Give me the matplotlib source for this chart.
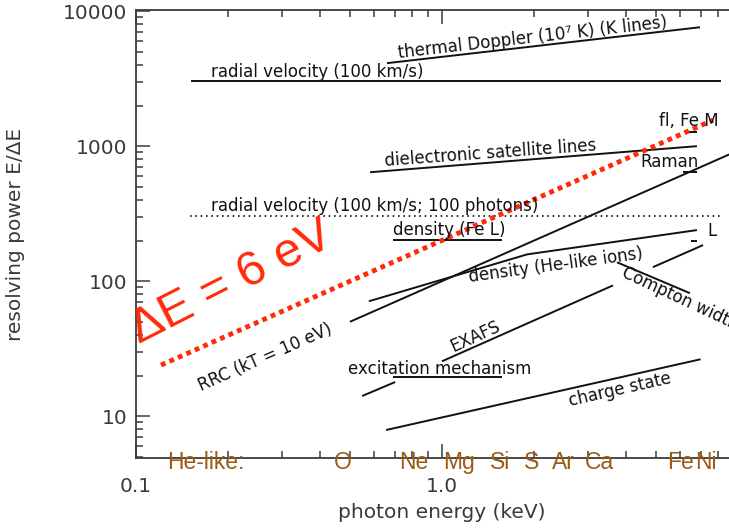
import numpy as np
import matplotlib
matplotlib.use("Agg")
import matplotlib.pyplot as plt
from matplotlib.ticker import FixedLocator, FixedFormatter, NullFormatter, LogLocator

# resolving power requirements (E/dE) vs photon energy (keV)
rv_x = [0.151, 8.16]            # radial velocity (100 km/s)
rv_y = [3030, 3030]
doppler_x = [0.661, 6.97]       # thermal Doppler
doppler_y = [4120, 7600]
dielec_x = [0.582, 6.81]        # dielectronic satellite lines
dielec_y = [641, 1000]
rv100_x = [0.150, 8.16]         # radial velocity, 100 photons
rv100_y = [303, 303]
rrc_x = [0.5, 10.0]             # RRC kT=10 eV
rrc_y = [50, 1000]
fel_x = [0.692, 1.57]           # density (Fe L)
fel_y = [201, 201]
helike_x = [0.577, 1.90, 6.81]  # density (He-like ions)
helike_y = [71, 158, 239]
compton_x = [3.73, 6.46]
compton_y = [138, 81.5]
lseg_x = [4.89, 7.13]
lseg_y = [127, 185]
exafs_x = [1.0, 3.62]
exafs_y = [25.5, 93]
excit_x = [0.692, 1.57]
excit_y = [19.4, 19.4]
excit2_x = [0.548, 0.703]
excit2_y = [14.1, 17.9]
charge_x = [0.657, 7.0]
charge_y = [7.9, 26.4]
de6_x = [0.1207, 7.69]          # dE = 6 eV
de6_y = [23.9, 1560]

# little dashes at the Fe end
flfe_x = [6.41, 6.81]; flfe_y = [1270, 1270]
raman_x = [6.13, 6.81]; raman_y = [641, 641]
ldash_x = [6.50, 6.81]; ldash_y = [198, 198]

# He-like line energies for the element labels
elements = ["He-like:", "O", "Ne", "Mg", "Si", "S", "Ar", "Ca", "Fe", "Ni"]
element_x = [0.169, 0.475, 0.81, 1.14, 1.55, 1.97, 2.5, 3.26, 6.04, 7.29]

xticks = [0.1, 1.0, 10.0]
xticklabels = ["0.1", "1.0", ""]   # the 10 label falls off the page
yticks = [10, 100, 1000, 10000]
yticklabels = ["10", "100", "1000", "10000"]

W, H = 729, 531
fig = plt.figure(figsize=(W / 100, H / 100), dpi=100)
ax = fig.add_axes([136 / W, (H - 458) / H, (748 - 136) / W, (458 - 10) / H])
ax.set_xscale("log")
ax.set_yscale("log")
ax.set_xlim(0.1, 10)
ax.set_ylim(4.9, 10200)

ink = "#111111"
gray = "#3a3a3a"
red = "#ff2a0a"
brown = "#9a5b14"

lw = 1.4
for xs, ys in [(rv_x, rv_y), (doppler_x, doppler_y), (dielec_x, dielec_y),
               (rrc_x, rrc_y), (fel_x, fel_y), (helike_x, helike_y),
               (compton_x, compton_y), (lseg_x, lseg_y), (exafs_x, exafs_y),
               (excit_x, excit_y), (excit2_x, excit2_y), (charge_x, charge_y),
               (flfe_x, flfe_y), (raman_x, raman_y), (ldash_x, ldash_y)]:
    ax.plot(xs, ys, color=ink, lw=lw, solid_capstyle="butt")

ax.plot(rv100_x, rv100_y, color=ink, lw=1.2, linestyle=(0, (1, 2.2)))
ax.plot(de6_x, de6_y, color=red, lw=3.5, linestyle=(0, (1, 0.9)))

fs = 12
txt = dict(color=ink, fontsize=fs, ha="center", va="center", rotation_mode="anchor")
ax.text(0.390, 3530, "radial velocity (100 km/s)", **txt)
ax.text(1.98, 6310, "thermal Doppler (10\u2077 K) (K lines)", rotation=6.5, **txt)
ax.text(1.435, 887, "dielectronic satellite lines", rotation=4.2, **txt)
ax.text(0.604, 359, "radial velocity (100 km/s; 100 photons)", **txt)
ax.text(1.06, 239, "density (Fe L)", **txt)
ax.text(0.264, 27.4, "RRC (kT = 10 eV)", rotation=23.8, **txt)
ax.text(2.36, 131, "density (He-like ions)", rotation=7.7, **txt)
ax.text(3.9, 118, "Compton width", rotation=-25,
        **{**txt, "ha": "left"})
ax.text(1.282, 39.1, "EXAFS", rotation=24.5, **txt)
ax.text(0.985, 22.3, "excitation mechanism", **txt)
ax.text(3.82, 15.6, "charge state", rotation=12.8, **txt)
ax.text(6.41, 1530, "fl, Fe M", **txt)
ax.text(5.56, 760, "Raman", **txt)
ax.text(7.62, 234, "L", **txt)

ax.text(0.206, 96.6, "\u0394E = 6 eV", color=red, fontsize=35, family="Liberation Sans",
        rotation=27, ha="center", va="center", rotation_mode="anchor")

for name, ex in zip(elements, element_x):
    ax.text(ex, 4.05, name, color=brown, fontsize=16.5, family="Liberation Sans",
            ha="center", va="baseline", clip_on=False)

ax.xaxis.set_major_locator(FixedLocator(xticks))
ax.xaxis.set_major_formatter(FixedFormatter(xticklabels))
ax.xaxis.set_minor_locator(LogLocator(base=10, subs=np.arange(2, 10)))
ax.xaxis.set_minor_formatter(NullFormatter())
ax.yaxis.set_major_locator(FixedLocator(yticks))
ax.yaxis.set_major_formatter(FixedFormatter(yticklabels))
ax.yaxis.set_minor_locator(LogLocator(base=10, subs=np.arange(2, 10)))
ax.yaxis.set_minor_formatter(NullFormatter())

ax.tick_params(which="both", direction="in", top=True, right=True, color=gray,
               width=1.1, labelcolor=gray, labelsize=14.5)
ax.tick_params(which="major", length=10)
ax.tick_params(which="minor", length=5)
ax.tick_params(axis="x", which="major", pad=14)
ax.tick_params(axis="y", which="major", pad=6)
for s in ax.spines.values():
    s.set_color(gray)
    s.set_linewidth(1.3)

ax.set_xlabel("photon energy (keV)", fontsize=14.5, color=gray)
ax.set_ylabel("resolving power E/\u0394E", fontsize=14.5, color=gray)
ax.xaxis.set_label_coords(0.5, -0.10)
ax.yaxis.set_label_coords(-0.181, 0.5)

fig.savefig("out.png", dpi=100)
